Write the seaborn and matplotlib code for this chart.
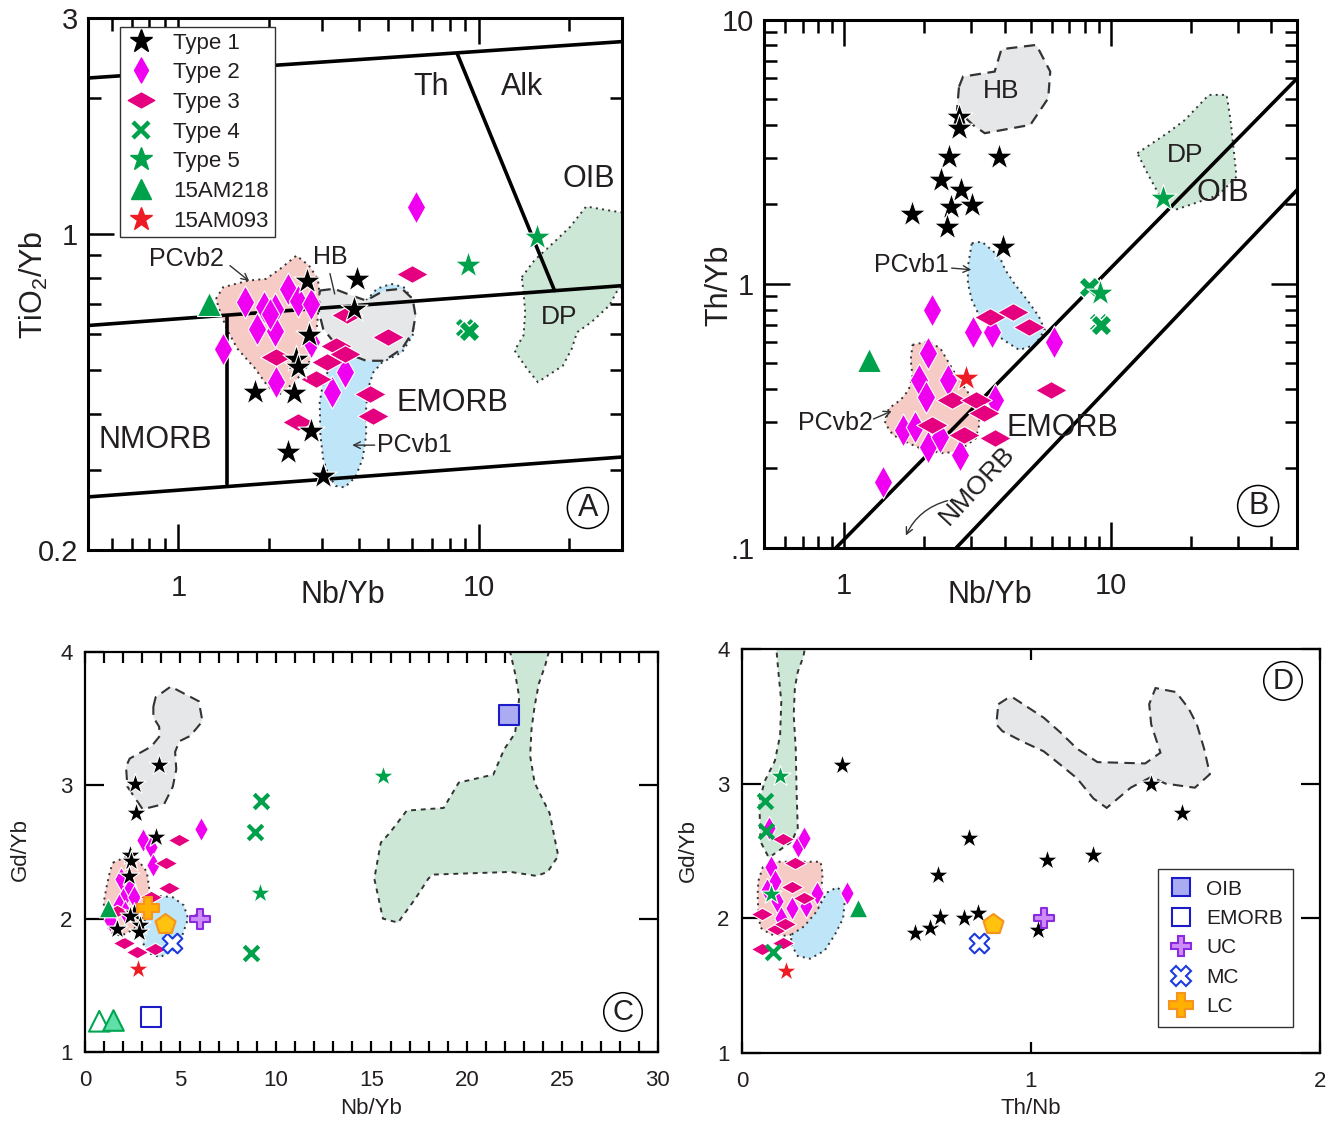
import numpy as np
import matplotlib
matplotlib.use("Agg")
import matplotlib.pyplot as plt
import seaborn as sns
from matplotlib.path import Path
from matplotlib.lines import Line2D
from matplotlib.patches import Polygon
from matplotlib.ticker import FixedLocator, FixedFormatter, NullFormatter, MultipleLocator

# ---------------- DATA ----------------
# Panel A : TiO2/Yb vs Nb/Yb (log-log)
A_t1_x = [2.68, 3.94, 3.83, 2.73, 2.47, 2.50, 1.80, 2.42, 2.76, 2.31, 3.02]
A_t1_y = [0.788, 0.795, 0.683, 0.596, 0.529, 0.507, 0.447, 0.445, 0.367, 0.329, 0.292]
A_t2_x = [1.66, 1.93, 2.10, 2.31, 2.50, 2.76, 1.83, 2.10, 1.41, 2.12, 2.76, 3.25, 3.58, 2.01, 6.16]
A_t2_y = [0.706, 0.689, 0.683, 0.756, 0.712, 0.700, 0.616, 0.611, 0.557, 0.470, 0.576, 0.447, 0.494, 0.665, 1.146]
A_t3_x = [5.99, 3.63, 4.97, 3.34, 3.58, 2.12, 3.12, 2.87, 4.33, 4.45, 2.50]
A_t3_y = [0.816, 0.660, 0.591, 0.566, 0.543, 0.534, 0.520, 0.478, 0.443, 0.396, 0.383]
A_t4_x = [9.0, 9.3]
A_t4_y = [0.62, 0.61]
A_t5_x = [9.21, 15.6]
A_t5_y = [0.851, 0.983]
A_218_x = [1.26]
A_218_y = [0.700]

A_pcvb2_x = [1.333, 1.409, 1.707, 1.957, 2.184, 2.470, 2.720, 2.913, 2.953, 2.913, 2.873, 2.796, 2.647, 2.436, 2.184, 2.012, 1.803, 1.572, 1.467, 1.390]
A_pcvb2_y = [0.718, 0.762, 0.788, 0.795, 0.837, 0.895, 0.851, 0.795, 0.730, 0.659, 0.596, 0.538, 0.503, 0.470, 0.443, 0.454, 0.503, 0.557, 0.606, 0.659]
A_hb_x = [2.953, 3.296, 3.779, 4.216, 4.838, 5.549, 6.023, 6.159, 6.023, 5.549, 4.838, 4.216, 3.677, 3.296, 3.034, 2.937]
A_hb_y = [0.749, 0.756, 0.730, 0.712, 0.749, 0.756, 0.718, 0.659, 0.606, 0.557, 0.524, 0.524, 0.543, 0.576, 0.616, 0.671]
A_pcvb1_x = [4.216, 4.579, 5.109, 5.626, 5.941, 6.107, 6.023, 5.549, 4.772, 4.455, 4.275, 4.216, 4.216, 4.105, 3.885, 3.577, 3.342, 3.162, 3.034, 2.970, 2.953, 3.034, 3.206, 3.388, 3.779, 3.994]
A_pcvb1_y = [0.712, 0.756, 0.775, 0.762, 0.724, 0.659, 0.596, 0.547, 0.520, 0.494, 0.454, 0.410, 0.358, 0.318, 0.290, 0.275, 0.277, 0.292, 0.318, 0.358, 0.424, 0.470, 0.511, 0.557, 0.616, 0.671]
A_dp_x = [13.91, 15.30, 18.04, 20.12, 22.78, 27.22, 32, 32, 28.74, 27.22, 23.72, 21.26, 20.40, 19.06, 15.73, 14.48, 13.16, 14.09, 14.28, 14.09]
A_dp_y = [0.802, 0.873, 0.966, 1.035, 1.149, 1.126, 1.107, 0.795, 0.743, 0.694, 0.638, 0.606, 0.557, 0.511, 0.470, 0.503, 0.552, 0.596, 0.671, 0.743]

A_top_x, A_top_y = [0.5, 30], [2.21, 2.66]
A_mid_x, A_mid_y = [0.5, 30], [0.627, 0.768]
A_bot_x, A_bot_y = [0.5, 30], [0.262, 0.321]
A_vert_x, A_vert_y = [1.456, 1.456], [0.654, 0.280]
A_alk_x, A_alk_y = [8.48, 17.88], [2.50, 0.749]

# Panel B : Th/Yb vs Nb/Yb (log-log)
B_t1_x = [2.70, 2.70, 2.47, 3.82, 2.31, 2.74, 2.52, 3.02, 1.80, 2.43, 3.93]
B_t1_y = [4.30, 3.89, 3.03, 3.03, 2.48, 2.27, 1.96, 1.99, 1.84, 1.65, 1.38]
B_t2_x = [2.14, 3.03, 3.57, 6.12, 2.07, 1.90, 2.45, 2.03, 3.69, 1.66, 1.84, 2.07, 2.29, 2.72, 1.40]
B_t2_y = [0.797, 0.660, 0.660, 0.604, 0.546, 0.433, 0.433, 0.374, 0.364, 0.280, 0.288, 0.242, 0.264, 0.225, 0.178]
B_t3_x = [3.51, 4.31, 4.94, 5.96, 2.54, 3.12, 3.34, 2.14, 2.81, 3.69]
B_t3_y = [0.752, 0.786, 0.689, 0.397, 0.364, 0.364, 0.324, 0.292, 0.268, 0.260]
B_t4_x = [8.3, 9.0, 9.2]
B_t4_y = [0.97, 0.71, 0.70]
B_t5_x = [9.12, 15.7]
B_t5_y = [0.922, 2.11]
B_218_x = [1.24]
B_218_y = [0.515]
B_093_x = [2.86]
B_093_y = [0.439]

B_hb_x = [2.696, 2.791, 3.668, 3.890, 5.257, 5.929, 5.827, 4.992, 3.368, 3.039, 2.650]
B_hb_y = [5.588, 6.098, 6.371, 7.745, 8.040, 6.371, 5.051, 4.003, 3.723, 4.003, 4.561]
B_dp_x = [12.59, 16.29, 18.99, 23.32, 27.21, 28.14, 28.93, 29.64, 25.40, 20.69, 17.43, 15.20, 13.72]
B_dp_y = [3.127, 3.723, 4.180, 5.199, 5.199, 4.180, 3.218, 2.549, 2.174, 2.021, 1.907, 2.174, 2.626]
B_pcvb1_x = [3.010, 3.280, 3.824, 4.023, 4.383, 4.857, 5.377, 5.657, 5.199, 4.536, 3.954, 3.572, 3.223, 3.010, 2.911, 2.911]
B_pcvb1_y = [1.426, 1.446, 1.269, 1.130, 0.991, 0.870, 0.752, 0.669, 0.588, 0.562, 0.614, 0.669, 0.752, 0.870, 1.006, 1.163]
B_pcvb2_x = [1.804, 2.068, 2.292, 2.412, 2.582, 2.812, 3.116, 3.223, 3.116, 2.719, 2.373, 2.000, 1.745, 1.522, 1.422, 1.471, 1.630, 1.745, 1.804, 1.776]
B_pcvb2_y = [0.588, 0.605, 0.571, 0.523, 0.465, 0.408, 0.353, 0.297, 0.260, 0.235, 0.228, 0.235, 0.249, 0.268, 0.297, 0.338, 0.364, 0.397, 0.446, 0.516]

B_up_x, B_up_y = [0.93, 50], [0.1, 6.0]
B_lo_x, B_lo_y = [2.63, 50], [0.1, 2.27]

# Panel C : Gd/Yb vs Nb/Yb
C_t1_x = [3.85, 2.61, 2.65, 3.74, 2.34, 2.40, 2.29, 2.56, 2.34, 1.70, 2.90, 2.83]
C_t1_y = [3.15, 3.01, 2.79, 2.61, 2.48, 2.43, 2.32, 2.04, 2.02, 1.92, 1.95, 1.90]
C_t2_x = [6.08, 3.02, 3.47, 3.58, 1.88, 2.34, 2.00, 1.77, 2.56, 1.32, 2.11]
C_t2_y = [2.67, 2.59, 2.54, 2.40, 2.30, 2.23, 2.15, 2.10, 2.16, 1.99, 2.05]
C_t3_x = [4.94, 4.26, 4.38, 3.47, 5.96, 2.06, 2.74, 3.65, 1.66]
C_t3_y = [2.59, 2.42, 2.23, 2.16, 2.01, 1.82, 1.75, 1.77, 2.06]
C_t4_x = [9.21, 8.91, 8.68]
C_t4_y = [2.88, 2.65, 1.74]
C_t5_x = [15.6, 9.14]
C_t5_y = [3.07, 2.19]
C_218_x = [1.20]
C_218_y = [2.08]
C_093_x = [2.79]
C_093_y = [1.62]
C_oib_x, C_oib_y = [22.2], [3.53]
C_emorb_x, C_emorb_y = [3.47], [1.26]
C_uc_x, C_uc_y = [6.01], [2.0]
C_mc_x, C_mc_y = [4.56], [1.82]
C_lc_x, C_lc_y = [3.31], [2.08]
C_pent_x, C_pent_y = [4.20], [1.96]
C_otri_x, C_otri_y = [0.75], [1.23]
C_mtri_x, C_mtri_y = [1.47], [1.24]

C_hb_x = [3.58, 3.70, 4.49, 5.96, 6.15, 5.51, 4.94, 4.72, 4.78, 4.60, 4.15, 3.02, 2.22, 2.15, 2.34, 3.47, 3.92, 3.88, 3.58]
C_hb_y = [3.59, 3.66, 3.74, 3.63, 3.48, 3.37, 3.33, 3.25, 3.12, 2.99, 2.86, 2.82, 2.99, 3.14, 3.20, 3.29, 3.37, 3.44, 3.51]
C_dp_x = [22.18, 24.38, 24.10, 23.76, 23.54, 23.38, 23.31, 23.54, 23.88, 24.33, 24.78, 24.22, 23.65, 22.29, 18.21, 17.98, 17.30, 16.39, 15.60, 15.15, 15.49, 15.94, 16.85, 18.78, 19.57, 21.38, 21.95, 22.52, 22.74, 22.52]
C_dp_y = [4.05, 4.05, 3.90, 3.76, 3.59, 3.42, 3.22, 3.02, 2.92, 2.79, 2.47, 2.35, 2.32, 2.35, 2.33, 2.30, 2.15, 1.97, 2.00, 2.30, 2.57, 2.64, 2.81, 2.83, 3.02, 3.08, 3.27, 3.39, 3.66, 3.84]
C_pcvb1_x = [3.36, 3.92, 4.60, 5.17, 5.40, 5.06, 4.60, 3.92, 3.36, 3.02, 3.06, 3.24]
C_pcvb1_y = [2.12, 2.17, 2.16, 2.10, 2.00, 1.86, 1.76, 1.71, 1.74, 1.82, 1.95, 2.05]
C_pcvb2_x = [1.47, 2.11, 2.83, 3.24, 3.36, 3.24, 3.02, 2.56, 1.88, 1.32, 1.04, 0.98, 1.16, 1.32]
C_pcvb2_y = [2.42, 2.46, 2.43, 2.35, 2.23, 2.12, 2.01, 1.92, 1.87, 1.90, 1.99, 2.12, 2.26, 2.36]

# Panel D : Gd/Yb vs Th/Nb
D_t1_x = [0.346, 0.787, 0.680, 1.056, 1.216, 1.416, 1.524, 0.598, 0.651, 0.684, 0.767, 0.818, 1.023]
D_t1_y = [3.14, 2.60, 2.32, 2.43, 2.47, 3.00, 2.78, 1.89, 1.93, 2.01, 2.00, 2.04, 1.91]
D_t2_x = [0.093, 0.193, 0.215, 0.100, 0.114, 0.122, 0.172, 0.222, 0.258, 0.365, 0.136, 0.086]
D_t2_y = [2.67, 2.54, 2.60, 2.38, 2.28, 2.13, 2.08, 2.09, 2.19, 2.19, 2.00, 2.21]
D_t3_x = [0.143, 0.183, 0.172, 0.215, 0.069, 0.122, 0.150, 0.069, 0.143]
D_t3_y = [2.59, 2.41, 2.23, 2.15, 2.03, 1.92, 1.96, 1.77, 1.82]
D_t4_x = [0.079, 0.083, 0.107]
D_t4_y = [2.87, 2.65, 1.75]
D_t5_x = [0.132, 0.100]
D_t5_y = [3.06, 2.18]
D_218_x = [0.401]
D_218_y = [2.08]
D_093_x = [0.153]
D_093_y = [1.61]
D_pent_x, D_pent_y = [0.870], [1.96]
D_uc_x, D_uc_y = [1.044], [2.0]
D_mc_x, D_mc_y = [0.821], [1.82]

D_dp_x = [0.117, 0.222, 0.212, 0.193, 0.183, 0.179, 0.186, 0.189, 0.193, 0.172, 0.093, 0.064, 0.060, 0.079, 0.114, 0.132, 0.136, 0.126]
D_dp_y = [4.05, 4.05, 3.94, 3.83, 3.71, 3.51, 3.26, 2.94, 2.67, 2.57, 2.45, 2.57, 2.87, 3.02, 3.17, 3.36, 3.61, 3.83]
D_hb_x = [0.887, 0.916, 0.937, 0.987, 1.044, 1.102, 1.159, 1.230, 1.395, 1.448, 1.416, 1.409, 1.431, 1.502, 1.545, 1.574, 1.599, 1.619, 1.567, 1.466, 1.416, 1.345, 1.262, 1.216, 1.159, 1.102, 1.044, 0.973, 0.901, 0.880]
D_hb_y = [3.59, 3.63, 3.64, 3.57, 3.49, 3.38, 3.26, 3.16, 3.15, 3.23, 3.44, 3.59, 3.71, 3.68, 3.56, 3.44, 3.26, 3.07, 2.97, 3.00, 3.05, 2.97, 2.82, 2.89, 3.04, 3.14, 3.24, 3.31, 3.39, 3.44]
D_pcvb2_x = [0.057, 0.072, 0.114, 0.272, 0.279, 0.272, 0.258, 0.215, 0.157, 0.100, 0.064, 0.057, 0.054]
D_pcvb2_y = [2.28, 2.38, 2.42, 2.42, 2.33, 2.13, 1.98, 1.91, 1.87, 1.88, 1.93, 2.03, 2.18]
D_pcvb1_x = [0.172, 0.215, 0.258, 0.293, 0.329, 0.358, 0.350, 0.322, 0.286, 0.236, 0.193, 0.169]
D_pcvb1_y = [1.88, 1.94, 2.05, 2.19, 2.23, 2.18, 2.00, 1.88, 1.76, 1.70, 1.72, 1.81]

# ---------------- STYLE ----------------
sns.set_theme(style="ticks")
plt.rcParams['font.family'] = ['Liberation Sans', 'DejaVu Sans']
plt.rcParams['mathtext.fontset'] = 'custom'
plt.rcParams['mathtext.rm'] = 'Liberation Sans'
plt.rcParams['mathtext.it'] = 'Liberation Sans:italic'
TXT = '#231F20'
plt.rcParams['text.color'] = TXT
plt.rcParams['xtick.color'] = 'black'
plt.rcParams['ytick.color'] = 'black'
plt.rcParams['xtick.labelcolor'] = TXT
plt.rcParams['ytick.labelcolor'] = TXT
plt.rcParams['axes.labelcolor'] = TXT

BLACK = '#000000'
MAG = '#F000F0'
PINK = '#E4007F'
GREEN = '#00A14B'
RED = '#ED1C24'
F_PINK = '#F6CBC6'
F_GREY = '#E6E7E8'
F_BLUE = '#BEE6F8'
F_GREEN = '#CDE7D6'
DOT = (0, (1, 2.2))
DASH = (0, (5, 3))
SDASH = (0, (2.5, 2.5))

THIN_D = Path([(0, 1), (0.56, 0), (0, -1), (-0.56, 0), (0, 1)],
              [Path.MOVETO, Path.LINETO, Path.LINETO, Path.LINETO, Path.CLOSEPOLY])
WIDE_D = Path([(-1, 0), (0, 0.56), (1, 0), (0, -0.56), (-1, 0)],
              [Path.MOVETO, Path.LINETO, Path.LINETO, Path.LINETO, Path.CLOSEPOLY])

fig = plt.figure(figsize=(13.34, 11.24), dpi=100)
axA = fig.add_axes([0.066, 0.5107, 0.4003, 0.4733])
axB = fig.add_axes([0.5727, 0.5125, 0.3996, 0.4698])
axC = fig.add_axes([0.0637, 0.0641, 0.4295, 0.3559])
axD = fig.add_axes([0.5562, 0.0632, 0.4333, 0.3594])


def pts(ax, x, y, marker, s, fc, ec='white', lw=0.8, z=5):
    sns.scatterplot(x=x, y=y, ax=ax, marker=marker, s=s, color=fc,
                    edgecolor=ec, linewidth=lw, zorder=z, legend=False)


def region(ax, xs, ys, fc, ls, lw=1.4):
    ax.add_patch(Polygon(np.column_stack([xs, ys]), closed=True, fc=fc,
                         ec='#333333', lw=lw, ls=ls, zorder=1))


def seg(ax, xs, ys):
    sns.lineplot(x=xs, y=ys, ax=ax, color='black', lw=2.6, zorder=2,
                 sort=False, estimator=None, legend=False)


def circ(ax, x, y, t, fs):
    ax.text(x, y, t, transform=ax.transAxes, ha='center', va='center',
            fontsize=fs, color=TXT,
            bbox=dict(boxstyle='circle,pad=0.18', fc='white', ec='black', lw=1.1),
            zorder=10)


# ---------------- PANEL A ----------------
ax = axA
ax.set_xscale('log'); ax.set_yscale('log')
region(ax, A_dp_x, A_dp_y, F_GREEN, DOT)
region(ax, A_pcvb2_x, A_pcvb2_y, F_PINK, DOT)
region(ax, A_pcvb1_x, A_pcvb1_y, F_BLUE, DOT)
region(ax, A_hb_x, A_hb_y, F_GREY, DASH, lw=1.6)
for xs, ys in [(A_top_x, A_top_y), (A_mid_x, A_mid_y), (A_bot_x, A_bot_y),
               (A_vert_x, A_vert_y), (A_alk_x, A_alk_y)]:
    seg(ax, xs, ys)
pts(ax, A_t2_x, A_t2_y, THIN_D, 560, MAG)
pts(ax, A_t3_x, A_t3_y, WIDE_D, 520, PINK)
pts(ax, A_t1_x, A_t1_y, '*', 420, BLACK)
pts(ax, A_t4_x, A_t4_y, 'X', 230, GREEN, ec='white', lw=1.0)
pts(ax, A_t5_x, A_t5_y, '*', 420, GREEN)
pts(ax, A_218_x, A_218_y, '^', 300, GREEN)
ax.set_xlim(0.5, 30); ax.set_ylim(0.2, 3)
ax.text(6.95, 2.11, 'Th', fontsize=22, ha='center', va='center')
ax.text(13.9, 2.11, 'Alk', fontsize=22, ha='center', va='center')
ax.text(23.3, 1.32, 'OIB', fontsize=22, ha='center', va='center')
ax.text(18.5, 0.655, 'DP', fontsize=19, ha='center', va='center')
ax.text(0.835, 0.350, 'NMORB', fontsize=22, ha='center', va='center')
ax.text(8.16, 0.423, 'EMORB', fontsize=22, ha='center', va='center')
ax.text(1.06, 0.880, 'PCvb2', fontsize=18, ha='center', va='center')
ax.text(3.21, 0.889, 'HB', fontsize=18, ha='center', va='center')
ax.text(6.10, 0.341, 'PCvb1', fontsize=18, ha='center', va='center')
ax.annotate('', xy=(1.75, 0.779), xytext=(1.46, 0.858),
            arrowprops=dict(arrowstyle='->', lw=1.0, color='#333333'))
ax.annotate('', xy=(3.33, 0.726), xytext=(3.18, 0.828),
            arrowprops=dict(arrowstyle='-', lw=1.0, color='#333333'))
ax.annotate('', xy=(3.71, 0.341), xytext=(4.60, 0.341),
            arrowprops=dict(arrowstyle='->', lw=1.0, color='#333333'))
circ(ax, 0.936, 0.079, 'A', 22)

hA = [
    Line2D([], [], ls='none', marker='*', ms=17, mfc=BLACK, mec=BLACK, label='Type 1'),
    Line2D([], [], ls='none', marker=THIN_D, ms=18, mfc=MAG, mec=MAG, label='Type 2'),
    Line2D([], [], ls='none', marker=WIDE_D, ms=19, mfc=PINK, mec=PINK, label='Type 3'),
    Line2D([], [], ls='none', marker='x', ms=11, mew=3.2, color=GREEN, label='Type 4'),
    Line2D([], [], ls='none', marker='*', ms=17, mfc=GREEN, mec=GREEN, label='Type 5'),
    Line2D([], [], ls='none', marker='^', ms=14, mfc=GREEN, mec=GREEN, label='15AM218'),
    Line2D([], [], ls='none', marker='*', ms=17, mfc=RED, mec=RED, label='15AM093'),
]
legA = ax.legend(handles=hA, loc='upper left', bbox_to_anchor=(0.06, 0.983),
                 fontsize=16, frameon=True, fancybox=False, edgecolor='#333333',
                 framealpha=1, borderpad=0.25, labelspacing=0.39, handlelength=1.4,
                 handletextpad=0.75, borderaxespad=0)
legA.get_frame().set_linewidth(1.0)
legA.set_zorder(20)
for t in legA.get_texts():
    t.set_color(TXT)

ax.xaxis.set_major_locator(FixedLocator([1, 10]))
ax.xaxis.set_major_formatter(FixedFormatter(['1', '10']))
ax.xaxis.set_minor_locator(FixedLocator([0.6, 0.7, 0.8, 0.9, 2, 3, 4, 5, 6, 7, 8, 9, 20, 30]))
ax.xaxis.set_minor_formatter(NullFormatter())
ax.yaxis.set_major_locator(FixedLocator([0.2, 1, 3]))
ax.yaxis.set_major_formatter(FixedFormatter(['0.2', '1', '3']))
ax.yaxis.set_minor_locator(FixedLocator([0.3, 0.4, 0.5, 0.6, 0.7, 0.8, 0.9, 2]))
ax.yaxis.set_minor_formatter(NullFormatter())
ax.set_xlabel('Nb/Yb', fontsize=22)
ax.set_ylabel('TiO$_2$/Yb', fontsize=22)
ax.xaxis.set_label_coords(0.478, -0.057)
ax.yaxis.set_label_coords(-0.072, 0.498)

# ---------------- PANEL B ----------------
ax = axB
ax.set_xscale('log'); ax.set_yscale('log')
region(ax, B_dp_x, B_dp_y, F_GREEN, DOT)
region(ax, B_hb_x, B_hb_y, F_GREY, DASH, lw=1.6)
region(ax, B_pcvb1_x, B_pcvb1_y, F_BLUE, DOT)
region(ax, B_pcvb2_x, B_pcvb2_y, F_PINK, DOT)
seg(ax, B_up_x, B_up_y)
seg(ax, B_lo_x, B_lo_y)
pts(ax, B_t2_x, B_t2_y, THIN_D, 560, MAG)
pts(ax, B_t3_x, B_t3_y, WIDE_D, 520, PINK)
pts(ax, B_t1_x, B_t1_y, '*', 420, BLACK)
pts(ax, B_t4_x, B_t4_y, 'X', 230, GREEN, ec='white', lw=1.0)
pts(ax, B_t5_x, B_t5_y, '*', 420, GREEN)
pts(ax, B_218_x, B_218_y, '^', 300, GREEN)
pts(ax, B_093_x, B_093_y, '*', 420, RED)
ax.set_xlim(0.5, 50); ax.set_ylim(0.1, 10)
ax.text(3.88, 5.38, 'HB', fontsize=19, ha='center', va='center')
ax.text(19.0, 3.08, 'DP', fontsize=19, ha='center', va='center')
ax.text(26.3, 2.21, 'OIB', fontsize=22, ha='center', va='center')
ax.text(1.78, 1.18, 'PCvb1', fontsize=18, ha='center', va='center')
ax.text(0.925, 0.298, 'PCvb2', fontsize=18, ha='center', va='center')
ax.text(6.56, 0.285, 'EMORB', fontsize=22, ha='center', va='center')
ax.text(3.15, 0.173, 'NMORB', fontsize=19, ha='center', va='center', rotation=47)
ax.annotate('', xy=(3.07, 1.13), xytext=(2.47, 1.15),
            arrowprops=dict(arrowstyle='->', lw=1.0, color='#333333'))
ax.annotate('', xy=(1.54, 0.333), xytext=(1.26, 0.305),
            arrowprops=dict(arrowstyle='->', lw=1.0, color='#333333'))
ax.annotate('', xy=(1.686, 0.109), xytext=(2.50, 0.152),
            arrowprops=dict(arrowstyle='->', lw=1.0, color='#333333',
                            connectionstyle='arc3,rad=0.25'))
circ(ax, 0.927, 0.0795, 'B', 22)
ax.xaxis.set_major_locator(FixedLocator([1, 10]))
ax.xaxis.set_major_formatter(FixedFormatter(['1', '10']))
ax.xaxis.set_minor_locator(FixedLocator([0.6, 0.7, 0.8, 0.9, 2, 3, 4, 5, 6, 7, 8, 9, 20, 30, 40]))
ax.xaxis.set_minor_formatter(NullFormatter())
ax.yaxis.set_major_locator(FixedLocator([0.1, 1, 10]))
ax.yaxis.set_major_formatter(FixedFormatter(['.1', '1', '10']))
ax.yaxis.set_minor_locator(FixedLocator([0.2, 0.3, 0.4, 0.5, 0.6, 0.7, 0.8, 0.9, 2, 3, 4, 5, 6, 7, 8, 9]))
ax.yaxis.set_minor_formatter(NullFormatter())
ax.set_xlabel('Nb/Yb', fontsize=22)
ax.set_ylabel('Th/Yb', fontsize=22)
ax.xaxis.set_label_coords(0.424, -0.06)
ax.yaxis.set_label_coords(-0.055, 0.498)

for ax in (axA, axB):
    ax.tick_params(which='both', direction='in', top=True, right=True, width=1.8, labelsize=21)
    ax.tick_params(which='major', length=19)
    ax.tick_params(which='minor', length=9)
    ax.tick_params(axis='x', which='both', pad=17)
    ax.tick_params(axis='y', which='both', pad=7)
    for sp in ax.spines.values():
        sp.set_linewidth(2.2)
        sp.set_color('black')

# ---------------- PANEL C ----------------
ax = axC
region(ax, C_dp_x, C_dp_y, F_GREEN, SDASH)
region(ax, C_hb_x, C_hb_y, F_GREY, DASH, lw=1.5)
region(ax, C_pcvb2_x, C_pcvb2_y, F_PINK, DOT)
region(ax, C_pcvb1_x, C_pcvb1_y, F_BLUE, DOT)
pts(ax, C_t2_x, C_t2_y, THIN_D, 300, MAG)
pts(ax, C_t3_x, C_t3_y, WIDE_D, 260, PINK)
pts(ax, C_t1_x, C_t1_y, '*', 250, BLACK)
pts(ax, C_t4_x, C_t4_y, 'x', 110, GREEN, ec=GREEN, lw=3)
pts(ax, C_t5_x, C_t5_y, '*', 250, GREEN)
pts(ax, C_218_x, C_218_y, '^', 180, GREEN)
pts(ax, C_093_x, C_093_y, '*', 250, RED)
pts(ax, C_oib_x, C_oib_y, 's', 200, '#ABABF2', ec='#1B1BC8', lw=1.5)
pts(ax, C_emorb_x, C_emorb_y, 's', 200, 'white', ec='#1B1BC8', lw=1.5)
pts(ax, C_uc_x, C_uc_y, 'P', 220, '#CF8CF7', ec='#8A2BE2', lw=1.5)
pts(ax, C_mc_x, C_mc_y, 'X', 200, 'white', ec='#1B3BE0', lw=1.5)
pts(ax, C_lc_x, C_lc_y, 'P', 260, '#FFB000', ec='#F7941D', lw=1.5)
pts(ax, C_pent_x, C_pent_y, 'p', 230, '#FFC20E', ec='#F7941D', lw=1.5)
pts(ax, C_otri_x, C_otri_y, '^', 220, 'none', ec='#00A651', lw=1.5)
pts(ax, C_mtri_x, C_mtri_y, '^', 220, '#60E0A8', ec='#00A651', lw=1.5)
ax.set_xlim(0, 30); ax.set_ylim(1, 4)
ax.xaxis.set_major_locator(MultipleLocator(5))
ax.xaxis.set_minor_locator(MultipleLocator(1))
ax.yaxis.set_major_locator(FixedLocator([1, 2, 3, 4]))
ax.set_xlabel('Nb/Yb', fontsize=16)
ax.set_ylabel('Gd/Yb', fontsize=16)
ax.xaxis.set_label_coords(0.499, -0.115)
ax.yaxis.set_label_coords(-0.095, 0.505)
circ(ax, 0.939, 0.10, 'C', 21)

# ---------------- PANEL D ----------------
ax = axD
region(ax, D_dp_x, D_dp_y, F_GREEN, SDASH)
region(ax, D_hb_x, D_hb_y, F_GREY, DASH, lw=1.5)
region(ax, D_pcvb2_x, D_pcvb2_y, F_PINK, DOT)
region(ax, D_pcvb1_x, D_pcvb1_y, F_BLUE, DOT)
pts(ax, D_t2_x, D_t2_y, THIN_D, 300, MAG)
pts(ax, D_t3_x, D_t3_y, WIDE_D, 260, PINK)
pts(ax, D_t1_x, D_t1_y, '*', 250, BLACK)
pts(ax, D_t4_x, D_t4_y, 'x', 110, GREEN, ec=GREEN, lw=3)
pts(ax, D_t5_x, D_t5_y, '*', 250, GREEN)
pts(ax, D_218_x, D_218_y, '^', 180, GREEN)
pts(ax, D_093_x, D_093_y, '*', 250, RED)
pts(ax, D_pent_x, D_pent_y, 'p', 230, '#FFC20E', ec='#F7941D', lw=1.5)
pts(ax, D_uc_x, D_uc_y, 'P', 220, '#CF8CF7', ec='#8A2BE2', lw=1.5)
pts(ax, D_mc_x, D_mc_y, 'X', 200, 'white', ec='#1B3BE0', lw=1.5)
ax.set_xlim(0, 2); ax.set_ylim(1, 4)
ax.xaxis.set_major_locator(FixedLocator([0, 1, 2]))
ax.yaxis.set_major_locator(FixedLocator([1, 2, 3, 4]))
ax.set_xlabel('Th/Nb', fontsize=16)
ax.set_ylabel('Gd/Yb', fontsize=16)
ax.xaxis.set_label_coords(0.5, -0.112)
ax.yaxis.set_label_coords(-0.075, 0.502)
circ(ax, 0.936, 0.921, 'D', 21)

hD = [
    Line2D([], [], ls='none', marker='s', ms=13, mfc='#ABABF2', mec='#1B1BC8', mew=1.5, label='OIB'),
    Line2D([], [], ls='none', marker='s', ms=13, mfc='white', mec='#1B1BC8', mew=1.5, label='EMORB'),
    Line2D([], [], ls='none', marker='P', ms=15, mfc='#CF8CF7', mec='#8A2BE2', mew=1.5, label='UC'),
    Line2D([], [], ls='none', marker='X', ms=15, mfc='white', mec='#1B3BE0', mew=1.5, label='MC'),
    Line2D([], [], ls='none', marker='P', ms=17, mfc='#FFB000', mec='#F7941D', mew=1.5, label='LC'),
]
legD = ax.legend(handles=hD, loc='upper left', bbox_to_anchor=(0.72, 0.455),
                 fontsize=15, frameon=True, fancybox=False, edgecolor='#333333',
                 framealpha=1, borderpad=0.5, labelspacing=0.5, handlelength=1.2,
                 handletextpad=0.6, borderaxespad=0)
legD.get_frame().set_linewidth(1.0)
for t in legD.get_texts():
    t.set_color(TXT)

for ax in (axC, axD):
    ax.tick_params(which='both', direction='in', top=True, right=True, width=1.6, labelsize=16)
    ax.tick_params(axis='x', which='both', length=8, pad=13)
    ax.tick_params(axis='y', which='both', length=14, pad=9)
    for sp in ax.spines.values():
        sp.set_linewidth(1.6)
        sp.set_color('black')

fig.savefig('out.png', dpi=100)
